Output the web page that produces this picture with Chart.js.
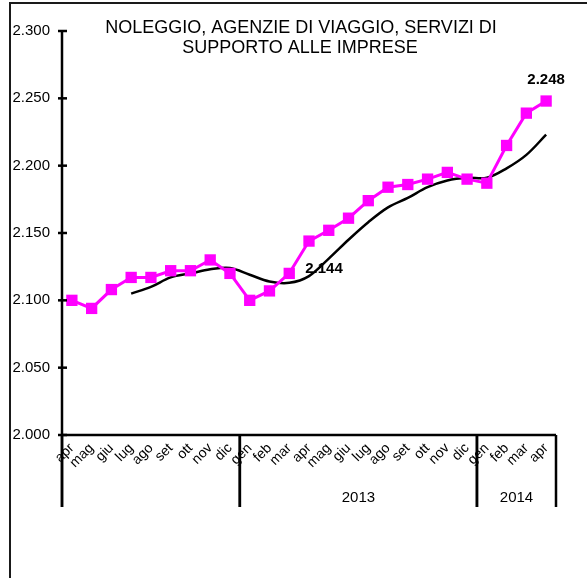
<!DOCTYPE html>
<html lang="it">
<head>
    <meta charset="UTF-8">
    <title>Noleggio, agenzie di viaggio</title>
    <script src="https://cdn.jsdelivr.net/npm/chart.js"></script>
    <style>
        body { margin: 0; background: #fff; }
        canvas { display: block; }
    </style>
</head>
<body>
    <canvas id="grafico" width="587" height="578"></canvas>

    <script>
        // mesi da apr 2012 a apr 2014
        const mesi = ['apr','mag','giu','lug','ago','set','ott','nov','dic',
                      'gen','feb','mar','apr','mag','giu','lug','ago','set','ott','nov','dic',
                      'gen','feb','mar','apr'];
        const anni = [
            { label: '', from: 0, to: 9 },
            { label: '2013', from: 9, to: 21 },
            { label: '2014', from: 21, to: 25 }
        ];
        // dati grezzi (migliaia)
        const serie = [2.100, 2.094, 2.108, 2.117, 2.117, 2.122, 2.122, 2.130, 2.120,
                       2.100, 2.107, 2.120, 2.144, 2.152, 2.161, 2.174, 2.184, 2.186, 2.190, 2.195, 2.190,
                       2.187, 2.215, 2.239, 2.248];
        // media mobile
        const tendenza = [null, null, null, 2.105, 2.110, 2.117, 2.120, 2.123, 2.124,
                          2.119, 2.114, 2.113, 2.118, 2.131, 2.145, 2.158, 2.169, 2.176, 2.184, 2.189, 2.191,
                          2.191, 2.198, 2.208, 2.223];
        const yTicks = [2.000, 2.050, 2.100, 2.150, 2.200, 2.250, 2.300];
        const etichette = [12, 24]; // punti con valore scritto

        const fmt = v => v.toFixed(3);
        const FONT = '"Liberation Sans", Arial, sans-serif';

        const disegno = {
            id: 'disegno',
            afterDraw(chart) {
                const ctx = chart.ctx;
                const x = chart.scales.x, y = chart.scales.y;
                const area = chart.chartArea;
                const half = (x.getPixelForValue(1) - x.getPixelForValue(0)) / 2;
                const fondo = 507;
                ctx.save();

                // cornice
                ctx.strokeStyle = '#1a1a1a';
                ctx.lineWidth = 2;
                ctx.beginPath();
                ctx.moveTo(10, 578);
                ctx.lineTo(10, 3);
                ctx.lineTo(587, 3);
                ctx.stroke();

                // assi
                ctx.strokeStyle = '#000';
                ctx.lineWidth = 2.5;
                ctx.beginPath();
                ctx.moveTo(area.left, area.top);
                ctx.lineTo(area.left, fondo);
                ctx.moveTo(area.left, area.bottom);
                ctx.lineTo(area.right, area.bottom);
                ctx.stroke();

                // tacche y
                yTicks.forEach(v => {
                    const py = y.getPixelForValue(v);
                    ctx.beginPath();
                    ctx.moveTo(area.left - 4, py);
                    ctx.lineTo(area.left + 5, py);
                    ctx.stroke();
                });

                // separatori anni
                ctx.font = '15px ' + FONT;
                ctx.fillStyle = '#000';
                ctx.textAlign = 'center';
                ctx.textBaseline = 'middle';
                anni.forEach(a => {
                    const x0 = x.getPixelForValue(a.from) - half;
                    const x1 = x.getPixelForValue(a.to - 1) + half;
                    ctx.beginPath();
                    ctx.moveTo(x0, area.bottom);
                    ctx.lineTo(x0, fondo);
                    ctx.moveTo(x1, area.bottom);
                    ctx.lineTo(x1, fondo);
                    ctx.stroke();
                    if (a.label) ctx.fillText(a.label, (x0 + x1) / 2, 498);
                });

                // titolo
                ctx.font = '18px ' + FONT;
                ctx.fillText('NOLEGGIO, AGENZIE DI VIAGGIO, SERVIZI DI', 301, 28);
                ctx.fillText('SUPPORTO ALLE IMPRESE', 300, 48);

                // valori
                const meta = chart.getDatasetMeta(0);
                ctx.font = 'bold 15px ' + FONT;
                etichette.forEach(i => {
                    const p = meta.data[i];
                    if (i === 12) ctx.fillText(fmt(serie[i]), p.x + 15, p.y + 28);
                    else ctx.fillText(fmt(serie[i]), p.x, p.y - 21);
                });
                ctx.restore();
            }
        };

        new Chart(document.getElementById('grafico'), {
            type: 'line',
            data: {
                labels: mesi,
                datasets: [{
                    data: serie,
                    borderColor: '#ff00ff',
                    backgroundColor: '#ff00ff',
                    borderWidth: 3,
                    pointStyle: 'rect',
                    pointRadius: 8,
                    pointBorderWidth: 0,
                    tension: 0
                }, {
                    data: tendenza,
                    borderColor: '#000',
                    borderWidth: 2.5,
                    pointRadius: 0,
                    tension: 0.35
                }]
            },
            options: {
                responsive: false,
                animation: false,
                layout: { padding: { top: 31, right: 31, left: 0, bottom: 0 } },
                plugins: {
                    legend: { display: false },
                    tooltip: { enabled: false }
                },
                scales: {
                    x: {
                        offset: true,
                        grid: { display: false, drawTicks: false },
                        border: { display: false },
                        ticks: {
                            color: '#000',
                            font: { family: FONT, size: 14 },
                            maxRotation: 45,
                            minRotation: 45,
                            autoSkip: false,
                            padding: 5
                        },
                        afterFit: s => { s.height = 143; }
                    },
                    y: {
                        min: 2.0,
                        max: 2.3,
                        grid: { display: false, drawTicks: false },
                        border: { display: false },
                        ticks: {
                            stepSize: 0.05,
                            color: '#000',
                            font: { family: FONT, size: 15 },
                            padding: 12,
                            callback: v => fmt(v)
                        },
                        afterFit: s => { s.width = 62; }
                    }
                }
            },
            plugins: [disegno]
        });
    </script>
</body>
</html>
